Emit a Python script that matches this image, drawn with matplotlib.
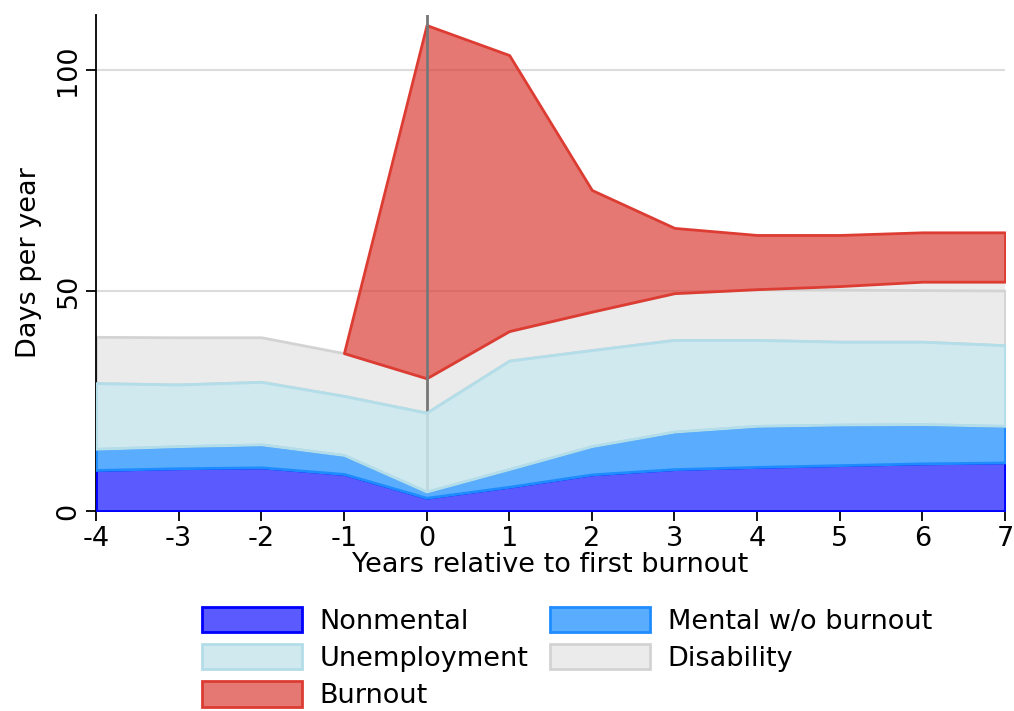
import numpy as np
import matplotlib
matplotlib.use("Agg")
import matplotlib.pyplot as plt

# years relative to first burnout
years = [-4, -3, -2, -1, 0, 1, 2, 3, 4, 5, 6, 7]

# days per year, one layer each (stacked bottom to top)
nonmental = [9.3, 9.7, 9.9, 8.4, 3.0, 5.5, 8.3, 9.5, 10.0, 10.4, 10.8, 11.0]
mental = [4.8, 5.0, 5.2, 4.3, 1.4, 4.0, 6.4, 8.5, 9.3, 9.2, 8.9, 8.3]
unemployment = [14.9, 14.0, 14.2, 13.4, 17.9, 24.6, 21.8, 20.8, 19.5, 18.8, 18.7, 18.3]
disability = [10.5, 10.7, 10.1, 9.7, 7.8, 6.7, 8.7, 10.6, 11.5, 11.8, 11.7, 12.4]
# burnout only from year -1 on; small gap below it at the end
burnout = [np.nan, np.nan, np.nan, 0.0, 80.1, 62.6, 27.6, 14.8, 12.3, 11.6, 11.2, 11.2]
burnout_gap = [np.nan, np.nan, np.nan, 0.0, 0.0, 0.0, 0.0, 0.0, 0.0, 0.8, 1.9, 2.0]

plt.rcParams['font.family'] = ['DejaVu Sans']
plt.rcParams['axes.unicode_minus'] = False

x = np.array(years)
l1 = np.array(nonmental)
l2 = l1 + np.array(mental)
l3 = l2 + np.array(unemployment)
l4 = l3 + np.array(disability)
b0 = l4 + np.array(burnout_gap)
b1 = b0 + np.array(burnout)

fig = plt.figure(figsize=(10.14, 7.11), dpi=100)
ax = fig.add_axes([0.0947, 0.2813, 0.8964, 0.6977])

ax.axhline(50, color='#dcdcdc', lw=1.5, zorder=0.5)
ax.axhline(100, color='#dcdcdc', lw=1.5, zorder=0.5)
ax.axvline(0, color='#777777', lw=2, zorder=2.5)

zero = np.zeros_like(l1)
ax.fill_between(x, zero, l1, facecolor='#5a5aff', edgecolor='#0000ff', lw=2,
                zorder=3, label='Nonmental')
ax.fill_between(x, l1, l2, facecolor='#5aacff', edgecolor='#1e8cff', lw=2,
                zorder=3, label='Mental w/o burnout')
ax.fill_between(x, l2, l3, facecolor=(0.79, 0.90, 0.925, 0.88), edgecolor='#b3dde8', lw=2,
                zorder=3, label='Unemployment')
ax.fill_between(x, l3, l4, facecolor=(0.91, 0.91, 0.91, 0.85), edgecolor='#d3d3d3', lw=2,
                zorder=2, label='Disability')
m = ~np.isnan(b0)
ax.fill_between(x[m], l4[m], b0[m], facecolor='#ececec', lw=0, zorder=1.9)
ax.fill_between(x[m], b0[m], b1[m], facecolor=(0.855, 0.22, 0.19, 0.68),
                edgecolor='#dd3c33', lw=2, zorder=2, label='Burnout')

ax.set_xlim(-4, 7)
ax.set_ylim(0, 112.5)
ax.set_xticks(years)
ax.set_yticks([0, 50, 100])
for lab in ax.get_yticklabels():
    lab.set_rotation(90)
    lab.set_va('center')
ax.tick_params(labelsize=19.5, length=7, width=1.3, colors='black')
for s in ['top', 'right']:
    ax.spines[s].set_visible(False)
for s in ['left', 'bottom']:
    ax.spines[s].set_linewidth(1.3)

ax.set_xlabel('Years relative to first burnout', fontsize=19.5, labelpad=0)
ax.set_ylabel('Days per year', fontsize=19.5, labelpad=10)

# legend filled column-wise, so reorder to read row-wise like the original
h, l = ax.get_legend_handles_labels()
order = [0, 2, 4, 1, 3]
ax.legend([h[i] for i in order], [l[i] for i in order], ncol=2, frameon=False,
          loc='upper center', bbox_to_anchor=(0.518, -0.155), fontsize=19.5,
          handlelength=3.7, handleheight=1.05, columnspacing=0.8,
          labelspacing=0.35, handletextpad=0.65, borderaxespad=0.3)

fig.savefig('out.png', dpi=100)
